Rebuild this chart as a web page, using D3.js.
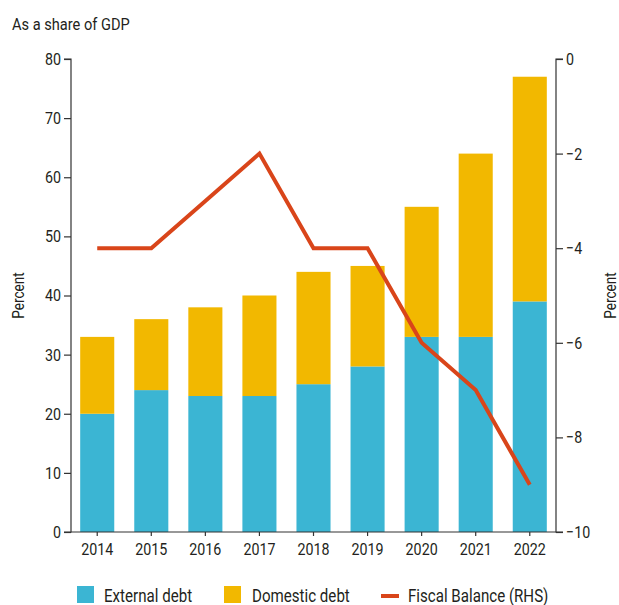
<!DOCTYPE html>
<html>
<head>
<meta charset="utf-8">
<script src="https://cdn.jsdelivr.net/npm/d3@7"></script>
<style>
  html, body { margin: 0; padding: 0; background: #fff; }
  svg text { font-family: "Roboto", "Liberation Sans", sans-serif; fill: #231f20; }
</style>
</head>
<body>
<svg id="chart" width="619" height="605"></svg>
<script>
// Debt composition and fiscal balance, 2014–2022
const years = ["2014", "2015", "2016", "2017", "2018", "2019", "2020", "2021", "2022"];
const externalDebt = [20, 24, 23, 23, 25, 28, 33, 33, 39];
const domesticDebt = [13, 12, 15, 17, 19, 17, 22, 31, 38];
const fiscalBalance = [-4, -4, -3, -2, -4, -4, -6, -7, -9];
const leftTicks = [0, 10, 20, 30, 40, 50, 60, 70, 80];
const rightTicks = [0, -2, -4, -6, -8, -10];

const colors = { external: "#3bb5d3", domestic: "#f2b800", fiscal: "#d9451a", axis: "#333" };

const svg = d3.select("#chart");
const W = 619, H = 605;
const margin = { left: 71, right: 63, top: 59, bottom: 73 };
const x0 = margin.left, x1 = W - margin.right, yTop = margin.top, yBot = H - margin.bottom;

// Narrow the text horizontally to get a condensed face
function condense(sel, s) {
  sel.each(function () {
    const t = d3.select(this);
    const xv = +(t.attr("x") || 0);
    const prev = t.attr("transform") || "";
    t.attr("x", xv / s).attr("transform", `${prev} scale(${s},1)`.trim());
  });
}

const x = d3.scaleBand().domain(years).range([x0, x1]).paddingInner(0.37).paddingOuter(0.17);
const yL = d3.scaleLinear().domain([0, 80]).range([yBot, yTop]);
const yR = d3.scaleLinear().domain([-10, 0]).range([yBot, yTop]);

const rows = years.map((yr, i) => ({ year: yr, external: externalDebt[i], domestic: domesticDebt[i] }));
const stacked = d3.stack().keys(["external", "domestic"])(rows);

svg.append("g").selectAll("g")
  .data(stacked).join("g")
  .attr("fill", d => colors[d.key])
  .selectAll("rect")
  .data(d => d).join("rect")
  .attr("x", d => x(d.data.year))
  .attr("width", x.bandwidth())
  .attr("y", d => yL(d[1]))
  .attr("height", d => yL(d[0]) - yL(d[1]));

// Fiscal balance line (right-hand scale)
const line = d3.line()
  .x((d, i) => x(years[i]) + x.bandwidth() / 2)
  .y(d => yR(d));
svg.append("path")
  .datum(fiscalBalance)
  .attr("d", line)
  .attr("fill", "none")
  .attr("stroke", colors.fiscal)
  .attr("stroke-width", 4)
  .attr("stroke-linejoin", "miter");

const minus = v => String(v).replace("-", "\u2212");

function styleAxis(g) {
  g.selectAll("path, line").attr("stroke", colors.axis).attr("stroke-width", 1.2);
  g.selectAll("text").attr("font-size", 17).attr("fill", "#231f20").call(condense, 0.84);
}

// Left axis
svg.append("g")
  .attr("transform", `translate(${x0},0)`)
  .call(d3.axisLeft(yL).tickValues(leftTicks).tickSizeInner(7).tickSizeOuter(7).tickPadding(3))
  .call(styleAxis)
  .call(g => g.select(".domain").attr("d", `M-7,${yTop}H0V${yBot}H-7`));

// Right axis
svg.append("g")
  .attr("transform", `translate(${x1},0)`)
  .call(d3.axisRight(yR).tickValues(rightTicks).tickFormat(minus).tickSizeInner(7).tickSizeOuter(7).tickPadding(3))
  .call(styleAxis)
  .call(g => g.select(".domain").attr("d", `M7,${yTop}H0V${yBot}H7`));

// Bottom axis
svg.append("g")
  .attr("transform", `translate(0,${yBot})`)
  .call(d3.axisBottom(x).tickSizeInner(4).tickSizeOuter(0).tickPadding(7))
  .call(styleAxis)
  .call(g => g.select(".domain").attr("d", `M${x0},0H${x1}`));

// Axis titles
svg.append("text")
  .attr("transform", `translate(24,${(yTop + yBot) / 2}) rotate(-90)`)
  .attr("text-anchor", "middle").attr("font-size", 16).text("Percent")
  .call(condense, 0.85);
svg.append("text")
  .attr("transform", `translate(616,${(yTop + yBot) / 2}) rotate(-90)`)
  .attr("text-anchor", "middle").attr("font-size", 16).text("Percent")
  .call(condense, 0.85);

svg.append("text")
  .attr("x", 12).attr("y", 30)
  .attr("font-size", 17).text("As a share of GDP")
  .call(condense, 0.86);

// Legend
const legend = svg.append("g").attr("transform", "translate(0,595)");
const items = [
  { label: "External debt", color: colors.external, type: "box", x: 77, tx: 104 },
  { label: "Domestic debt", color: colors.domestic, type: "box", x: 224, tx: 252 },
  { label: "Fiscal Balance (RHS)", color: colors.fiscal, type: "line", x: 381, tx: 408 }
];
items.forEach(it => {
  if (it.type === "box") {
    legend.append("rect").attr("x", it.x).attr("y", -9).attr("width", 17).attr("height", 17).attr("fill", it.color);
  } else {
    legend.append("line").attr("x1", it.x).attr("x2", it.x + 18).attr("y1", 1).attr("y2", 1)
      .attr("stroke", it.color).attr("stroke-width", 4);
  }
  legend.append("text").attr("x", it.tx).attr("y", 7).attr("font-size", 18).text(it.label)
    .call(condense, 0.84);
});
</script>
</body>
</html>
